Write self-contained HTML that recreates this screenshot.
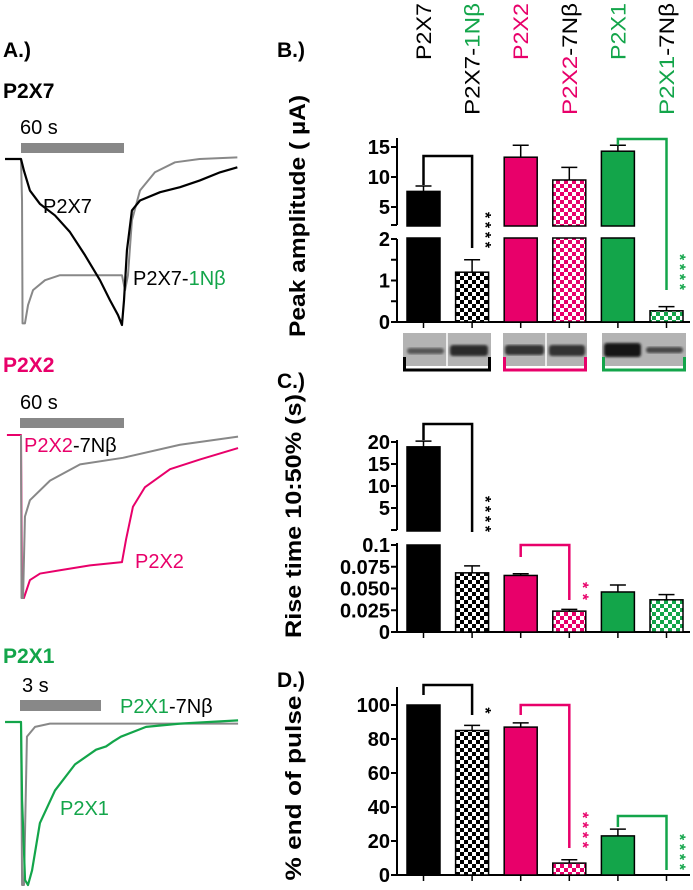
<!DOCTYPE html>
<html><head><meta charset="utf-8">
<style>
html,body{margin:0;padding:0;background:#fff;}
svg{display:block;font-family:"Liberation Sans",Arial,sans-serif;}
</style></head>
<body>
<svg id="fig" width="693" height="890" viewBox="0 0 693 890" xmlns="http://www.w3.org/2000/svg">
<defs>
<pattern id="chkK" width="8" height="8" patternUnits="userSpaceOnUse"><rect width="8" height="8" fill="#fff"/><rect width="4" height="4" fill="#000"/><rect x="4" y="4" width="4" height="4" fill="#000"/></pattern>
<pattern id="chkP" width="8" height="8" patternUnits="userSpaceOnUse"><rect width="8" height="8" fill="#fff"/><rect width="4" height="4" fill="#e8006a"/><rect x="4" y="4" width="4" height="4" fill="#e8006a"/></pattern>
<pattern id="chkG" width="8" height="8" patternUnits="userSpaceOnUse"><rect width="8" height="8" fill="#fff"/><rect width="4" height="4" fill="#13a54a"/><rect x="4" y="4" width="4" height="4" fill="#13a54a"/></pattern>
<filter id="blur"><feGaussianBlur stdDeviation="1.3"/></filter>
</defs>
<g id="panelA"></g>
<g id="panelB"></g>
<g id="panelC"></g>
<g id="panelD"></g>
</svg>
<script>
// ---- bar chart data ----
const categories = ["P2X7","P2X7-1Nβ","P2X2","P2X2-7Nβ","P2X1","P2X1-7Nβ"];
const peakValues = [7.6, 1.2, 13.3, 9.5, 14.3, 0.27];
const peakErrors = [0.9, 0.3, 2.0, 2.1, 1.0, 0.1];
const riseValues = [18.9, 0.068, 0.065, 0.024, 0.046, 0.037];
const riseErrors = [1.3, 0.008, 0.002, 0.002, 0.008, 0.006];
const endValues = [100, 85, 87, 7, 23, 0];
const endErrors = [0, 3, 2.5, 2, 4, 0];
const peakUpperTicks = ["5","10","15"];
const peakLowerTicks = ["0","1","2"];
const riseUpperTicks = ["5","10","15","20"];
const riseLowerTicks = ["0","0.025","0.050","0.075","0.1"];
const endTicks = ["0","20","40","60","80","100"];
// ---- trace data (time s, normalized current) ----
const p2x7T = [-9.3,0,1.7,5.2,11,19.8,28.5,37.3,46,51.8,56.5,58.8,60,61.7,64.6,69.3,81,92.6,104,116,126];
const p2x7I = [0,0,-0.07,-0.19,-0.27,-0.34,-0.44,-0.58,-0.73,-0.85,-0.94,-1,-0.85,-0.55,-0.31,-0.25,-0.2,-0.17,-0.13,-0.08,-0.05];
const p2x7nT = [-9.3,0,0.6,0.9,2.3,4.1,7,14,22.7,40.2,58.8,60.6,62.3,64.6,69.3,78,89.7,104,126];
const p2x7nI = [0,0,-0.25,-0.99,-0.99,-0.88,-0.79,-0.73,-0.7,-0.7,-0.7,-0.79,-0.7,-0.37,-0.19,-0.08,-0.02,0,0.01];
const p2x2nT = [0,0.3,1.2,2.3,5.2,16.9,34.4,59.4,92.6,126.4];
const p2x2nI = [0,-1,-1,-0.5,-0.4,-0.28,-0.18,-0.14,-0.06,-0.01];
const p2x2T = [-8.2,0,0.6,1.7,5.2,11.1,22.7,40.2,58.8,61.2,65.2,72.2,86.8,104.3,126.4];
const p2x2I = [0,0,-1,-1,-0.89,-0.85,-0.83,-0.8,-0.78,-0.64,-0.44,-0.32,-0.21,-0.15,-0.08];
const p2x1nT = [-0.59,0,0.04,0.11,0.22,0.52,1.07,8.04];
const p2x1nI = [0,0,-1,-1,-0.09,-0.03,-0.01,-0.01];
const p2x1T = [-0.59,0,0.04,0.15,0.26,0.41,0.7,1.26,2.0,2.78,3.15,3.41,3.7,4.63,5.89,8.04];
const p2x1I = [0,0,-0.48,-0.97,-1,-0.91,-0.62,-0.42,-0.26,-0.17,-0.15,-0.12,-0.09,-0.03,-0.01,0.01];

const NS="http://www.w3.org/2000/svg";
const K="#000", PK="#e8006a", GR="#13a54a", GY="#888";
const fills=[K,"url(#chkK)",PK,"url(#chkP)",GR,"url(#chkG)"];
function mk(parent,tag,attrs){const e=document.createElementNS(NS,tag);for(const k in attrs)e.setAttribute(k,attrs[k]);parent.appendChild(e);return e;}
function txt(parent,x,y,s,size,weight,fill,anchor){const t=mk(parent,"text",{x:x,y:y,"font-size":size,"font-weight":weight||"normal",fill:fill||"#000","text-anchor":anchor||"start"});t.textContent=s;return t;}
const barX = i => 423.5 + i*48.6;
const BW = 33;

// ---------- Panel A ----------
const A=document.getElementById("panelA");
function drawTrace(g,T,I,xs,ys,color,w,name){
  const p=mk(g,"polyline",{points:T.map((t,i)=>xs(t)+","+ys(I[i])).join(" "),fill:"none",stroke:color,"stroke-width":w,"stroke-linejoin":"round"});
  
  
}
let t;
t=txt(A,3,57,"A.)",21,"bold");
t=txt(A,3,98,"P2X7",21,"bold");
t=txt(A,20,134,"60 s",20);
let r=mk(A,"rect",{x:21,y:143,width:103,height:10,fill:GY});
{const xs=tt=>21+tt*1.717, ys=v=>159-v*166;
 drawTrace(A,p2x7nT,p2x7nI,xs,ys,GY,2,'p2x7-1nb-trace');
 drawTrace(A,p2x7T,p2x7I,xs,ys,K,2.2,'p2x7-trace');}
t=txt(A,43,213,"P2X7",20);
t=txt(A,133,285,"P2X7-",20);
{const ts=document.createElementNS(NS,"tspan");ts.setAttribute("fill",GR);ts.textContent="1Nβ";t.appendChild(ts);}
t=txt(A,3,372,"P2X2",21,"bold",PK);
t=txt(A,20,409,"60 s",20);
r=mk(A,"rect",{x:20,y:418,width:104,height:10,fill:GY});
{const xs=tt=>21+tt*1.717, ys=v=>435-v*163;
 drawTrace(A,p2x2T,p2x2I,xs,ys,PK,2,'p2x2-trace');
 drawTrace(A,p2x2nT,p2x2nI,xs,ys,GY,2,'p2x2-7nb-trace');}
t=txt(A,24,452,"P2X2",20,"normal",PK);
{const ts=document.createElementNS(NS,"tspan");ts.setAttribute("fill",K);ts.textContent="-7Nβ";t.appendChild(ts);}
t=txt(A,135,568,"P2X2",20,"normal",PK);
t=txt(A,3,663,"P2X1",21,"bold",GR);
t=txt(A,22,692,"3 s",20);
r=mk(A,"rect",{x:20,y:700,width:81,height:11,fill:GY});
{const xs=tt=>21+tt*27, ys=v=>722-v*163;
 drawTrace(A,p2x1nT,p2x1nI,xs,ys,GY,2,'p2x1-7nb-trace');
 drawTrace(A,p2x1T,p2x1I,xs,ys,GR,2.2,'p2x1-trace');}
t=txt(A,120,713,"P2X1",20,"normal",GR);
{const ts=document.createElementNS(NS,"tspan");ts.setAttribute("fill",K);ts.textContent="-7Nβ";t.appendChild(ts);}
t=txt(A,60,815,"P2X1",20,"normal",GR);

// ---------- helpers for bar panels ----------
const AX=397;
function vline(g,x,y1,y2,c,w){return mk(g,"line",{x1:x,y1:y1,x2:x,y2:y2,stroke:c||K,"stroke-width":w||2});}
function hline(g,x1,x2,y,c,w){return mk(g,"line",{x1:x1,y1:y,x2:x2,y2:y,stroke:c||K,"stroke-width":w||2});}
function tick(g,y,label,name){hline(g,AX-6,AX,y);if(label!==null){const tl=txt(g,AX-7,y+7,label,20,"bold",K,"end");}}
function vtext(g,cx,y,s,size,weight,len,name,fill){
  const e=mk(g,"text",{transform:"translate("+cx+","+y+") rotate(-90)","font-size":size,"font-weight":weight,"text-anchor":"middle",fill:fill||K,textLength:len,lengthAdjust:"spacingAndGlyphs"});
  e.textContent=s;return e;}
function barRect(g,i,yTop,yBot,name){
  const b=mk(g,"rect",{x:barX(i)-BW/2,y:Math.min(yTop,yBot),width:BW,height:Math.abs(yBot-yTop),fill:fills[i],stroke:K,"stroke-width":1.5});
  return b;}
function errBar(g,i,yTop,yBar){vline(g,barX(i),yTop,yBar,K,1.5);hline(g,barX(i)-8,barX(i)+8,yTop,K,1.5);}
function bracket(g,i1,i2,yTop,y1,y2,color,stars,name){
  const p=mk(g,"path",{d:"M"+barX(i1)+","+y1+" V"+yTop+" H"+barX(i2)+" V"+y2,fill:"none",stroke:color,"stroke-width":2.5});
  
  const len=stars.length*9;
  const st=mk(g,"text",{transform:"translate("+(barX(i2)+8)+","+(y2-len/2)+") rotate(90)","font-size":16,"font-weight":"bold",fill:color,"text-anchor":"middle",textLength:len,lengthAdjust:"spacing"});
  st.textContent=stars;
}
function xAxis(g,y){hline(g,AX,690,y);categories.forEach((c,i)=>{const tk=vline(g,barX(i),y,y+6,K,1.5);});}

// ---------- Panel B ----------
const B=document.getElementById("panelB");
t=txt(B,277,57,"B.)",21,"bold");
categories.forEach((c,i)=>{
  const first=(i%2===0);
  const bottom=first?60:115, len=first?57:112;
  const e=mk(B,"text",{transform:"translate("+(barX(i)+7.5)+","+bottom+") rotate(-90)","font-size":21,fill:K,textLength:len,lengthAdjust:"spacingAndGlyphs"});
  
  
  const parts = i===0?[["P2X7",K]]:i===1?[["P2X7-",K],["1Nβ",GR]]:i===2?[["P2X2",PK]]:i===3?[["P2X2",PK],["-7Nβ",K]]:i===4?[["P2X1",GR]]:[["P2X1",GR],["-7Nβ",K]];
  parts.forEach(pt=>{const ts=document.createElementNS(NS,"tspan");ts.setAttribute("fill",pt[1]);ts.textContent=pt[0];e.appendChild(ts);});
});
vtext(B,305,216,"Peak amplitude ( µA)",22,"bold",242,"y-axis-title-peak");
const bUp=v=>207-(v-5)*6, bLo=v=>322-v*41.5;
vline(B,AX,138,225);vline(B,AX,239,322);
hline(B,AX-6,AX,225);
peakUpperTicks.forEach(s=>tick(B,bUp(+s),s,'y-tick-peak-'+s));
peakLowerTicks.forEach(s=>tick(B,bLo(+s),s,'y-tick-peak-'+s));
[0.5,1.5].forEach(v=>tick(B,bLo(v),null));
xAxis(B,322);
peakValues.forEach((v,i)=>{
  const e=v+peakErrors[i];
  if(v>2){barRect(B,i,bLo(2)-1,322,'bar-peak-lower-'+i);barRect(B,i,bUp(v),226,'bar-peak-'+i);errBar(B,i,bUp(e),bUp(v));}
  else{barRect(B,i,bLo(v),322,'bar-peak-'+i);errBar(B,i,bLo(e),bLo(v));}
});
bracket(B,0,1,156,bUp(peakValues[0]+peakErrors[0])-1,248,K,"****",'bracket-peak-p2x7');
bracket(B,4,5,139,bUp(peakValues[4]+peakErrors[4]),290,GR,"****",'bracket-peak-p2x1');
const blot=mk(B,"g",{});
[[403,491],[503,587],[602,686]].forEach(gp=>mk(blot,"rect",{x:gp[0],y:333,width:gp[1]-gp[0],height:33,fill:"#b3b3b3"}));
const bands=[[407,444,348,6,"#555"],[450,488,345,11,"#2a2a2a"],[505,544,345,10,"#333"],[549,585,345,11,"#333"],[604,641,343,14,"#151515"],[646,683,347,6,"#444"]];
bands.forEach(b=>mk(blot,"rect",{x:b[0],y:b[2],width:b[1]-b[0],height:b[3],rx:3,fill:b[4],filter:"url(#blur)"}));
mk(blot,"line",{x1:447,y1:333,x2:447,y2:366,stroke:"#fff","stroke-width":1.5});
mk(blot,"line",{x1:546,y1:333,x2:546,y2:366,stroke:"#fff","stroke-width":1.5});
[[403,491,K],[503,587,PK],[602,686,GR]].forEach((gp,j)=>{const p=mk(B,"path",{d:"M"+(gp[0]+1.5)+",357 V370 H"+(gp[1]-1.5)+" V357",fill:"none",stroke:gp[2],"stroke-width":3});});

// ---------- Panel C ----------
const C=document.getElementById("panelC");
t=txt(C,277,388,"C.)",21,"bold");
vtext(C,301,516,"Rise time 10:50% (s)",22,"bold",244,"y-axis-title-rise");
const cUp=v=>442-(v-20)*4.4, cLo=v=>632-v*870;
vline(C,AX,440,530);vline(C,AX,543,632);
hline(C,AX-6,AX,530);
riseUpperTicks.forEach(s=>tick(C,cUp(+s),s,'y-tick-rise-'+s));
riseLowerTicks.forEach(s=>tick(C,cLo(+s),s,'y-tick-rise-'+s));
xAxis(C,632);
riseValues.forEach((v,i)=>{
  const e=v+riseErrors[i];
  if(v>0.1){barRect(C,i,cLo(0.1),632,'bar-rise-lower-'+i);barRect(C,i,cUp(v),531,'bar-rise-'+i);errBar(C,i,cUp(e),cUp(v));}
  else{barRect(C,i,cLo(v),632,'bar-rise-'+i);errBar(C,i,cLo(e),cLo(v));}
});
bracket(C,0,1,424,cUp(riseValues[0]+riseErrors[0])-1,532,K,"****",'bracket-rise-p2x7');
bracket(C,2,3,545,557,600,PK,"**",'bracket-rise-p2x2');

// ---------- Panel D ----------
const D=document.getElementById("panelD");
t=txt(D,277,687,"D.)",21,"bold");
vtext(D,301,788,"%  end of pulse",22,"bold",185,"y-axis-title-end");
const dY=v=>875-v*1.7;
vline(D,AX,687,875);
endTicks.forEach(s=>tick(D,dY(+s),s,'y-tick-end-'+s));
xAxis(D,875);
endValues.forEach((v,i)=>{
  if(v>0){barRect(D,i,dY(v),875,'bar-end-'+i);}
  if(endErrors[i]>0) errBar(D,i,dY(v+endErrors[i]),dY(v));
});
bracket(D,0,1,685,695,715,K,"*",'bracket-end-p2x7');
bracket(D,2,3,705,715,848,PK,"****",'bracket-end-p2x2');
bracket(D,4,5,816,827,870,GR,"****",'bracket-end-p2x1');
</script>
</body></html>
